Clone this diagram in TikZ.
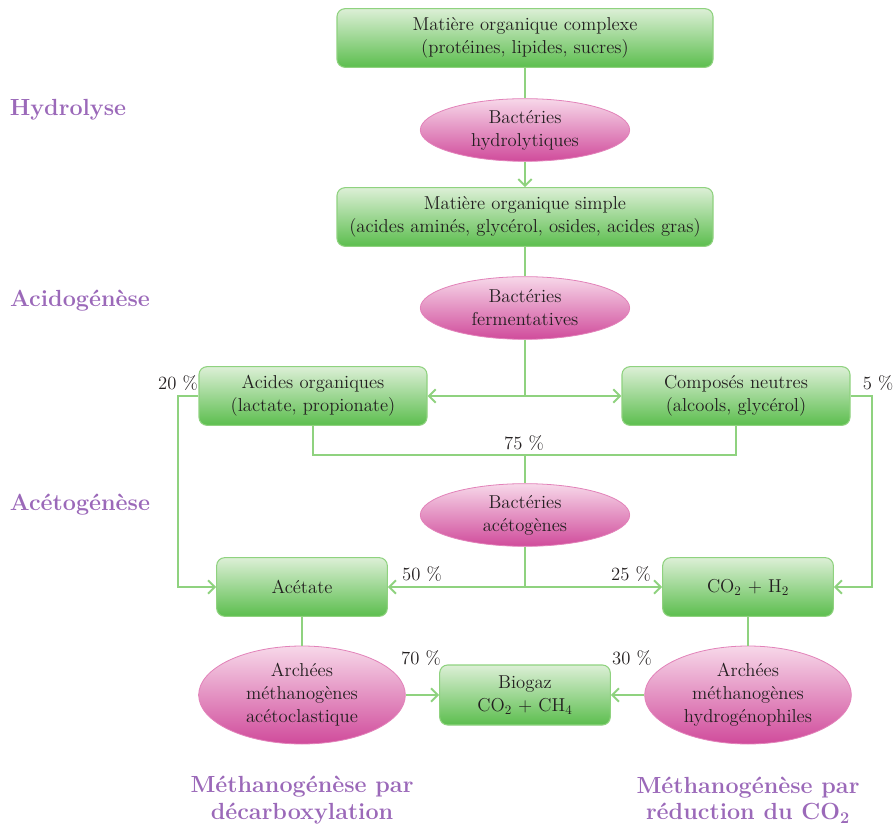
\documentclass[tikz,border=0pt]{standalone}
\usetikzlibrary{positioning,arrows.meta,shapes.geometric}

\definecolor{txtgrey}{RGB}{35,31,32}
\definecolor{lgreen}{RGB}{220,239,214}
\definecolor{dgreen}{RGB}{92,190,78}
\definecolor{bgreen}{RGB}{143,210,127}
\definecolor{lpink}{RGB}{247,216,233}
\definecolor{dpink}{RGB}{208,75,155}
\definecolor{bpink}{RGB}{226,130,185}
\definecolor{lilac}{RGB}{155,105,185}

\begin{document}
\begin{tikzpicture}[
    x=0.75pt, y=-0.75pt,
    font=\fontsize{14}{17.25}\selectfont, text=txtgrey,
    box/.style={
        draw=bgreen, line width=0.8pt, rounded corners=6pt,
        top color=lgreen, bottom color=dgreen,
        align=center, minimum height=44pt, inner sep=2pt,
    },
    bact/.style={
        ellipse, draw=bpink, line width=0.6pt,
        top color=lpink, bottom color=dpink,
        align=center, inner sep=0pt, minimum width=157pt, minimum height=47pt,
    },
    arch/.style={
        bact, minimum width=155pt, minimum height=73.5pt,
    },
    stage/.style={
        text=lilac, font=\fontsize{17.5}{20}\selectfont\bfseries, align=center,
    },
    flow/.style={
        draw=bgreen, line width=1.5pt,
    },
    arrow/.style={
        flow, -{Straight Barb[length=5pt,width=10pt]},
    }
]
    \useasboundingbox (0,0) rectangle (896,830);

    % stages
    \node[stage] (hyd) at (68,110) {Hydrolyse};
    \node[stage] (acid_st) at (80,301) {Acidogénèse};
    \node[stage] (acet_st) at (80,505) {Acétogénèse};
    \node[stage] (decarb) at (302,800) {Méthanogénèse par\\décarboxylation};
    \node[stage] (reduc) at (748,800) {Méthanogénèse par\\réduction du CO\textsubscript{2}};

    % boxes and bacteria
    \node[box, minimum width=282pt] (complexe) at (525,38) {Matière organique complexe\\(protéines, lipides, sucres)};
    \node[bact] (hydro) at (525,130) {Bactéries\\hydrolytiques};
    \node[box, minimum width=282pt] (simple) at (525,217) {Matière organique simple\\(acides aminés, glycérol, osides, acides gras)};
    \node[bact] (ferm) at (525,308) {Bactéries\\fermentatives};

    \node[box, minimum width=171pt] (acides) at (313,396) {Acides organiques\\(lactate, propionate)};
    \node[box, minimum width=171pt] (neutres) at (736,396) {Composés neutres\\(alcools, glycérol)};
    \node[bact] (aceto) at (525,515) {Bactéries\\acétogènes};

    \node[box, minimum width=128pt] (acetate) at (302,587) {Acétate};
    \node[box, minimum width=128pt] (co2h2) at (748,587) {CO\textsubscript{2} + H\textsubscript{2}};
    \node[arch] (clast) at (302,695) {Archées\\méthanogènes\\acétoclastique};
    \node[arch] (hydrog) at (748,695) {Archées\\méthanogènes\\hydrogénophiles};
    \node[box, minimum width=128pt, minimum height=45pt] (biogaz) at (525,695) {Biogaz\\CO\textsubscript{2} + CH\textsubscript{4}};

    % percentages
    \node (p20) at (178,383) {20 \%};
    \node (p5) at (878,383) {5 \%};
    \node (p75) at (524,443) {75 \%};
    \node (p50) at (422,574) {50 \%};
    \node (p25) at (631,574) {25 \%};
    \node (p70) at (421,658) {70 \%};
    \node (p30) at (632,658) {30 \%};

    % flows
    \draw[flow] (complexe) -- (hydro);
    \draw[arrow] (hydro) -- (simple);
    \draw[flow] (simple) -- (ferm);

    \coordinate (s1) at (ferm.south |- acides.east);
    \draw[flow] (ferm.south) -- (s1);
    \draw[arrow] (s1) -- (acides.east);
    \draw[arrow] (s1) -- (neutres.west);

    \coordinate (j75) at (525,455);
    \draw[flow] (acides.south) |- (j75) -| (neutres.south);
    \draw[flow] (j75) -- (aceto.north);

    \coordinate (s2) at (aceto.south |- acetate.east);
    \draw[flow] (aceto.south) -- (s2);
    \draw[arrow] (s2) -- (acetate.east);
    \draw[arrow] (s2) -- (co2h2.west);

    \draw[arrow] (acides.west) -- ++(-20,0) |- (acetate.west);
    \draw[arrow] (neutres.east) -- ++(21,0) |- (co2h2.east);

    \draw[flow] (acetate) -- (clast);
    \draw[flow] (co2h2) -- (hydrog);
    \draw[arrow] (clast.east) -- (biogaz.west);
    \draw[arrow] (hydrog.west) -- (biogaz.east);

\end{tikzpicture}
\end{document}
